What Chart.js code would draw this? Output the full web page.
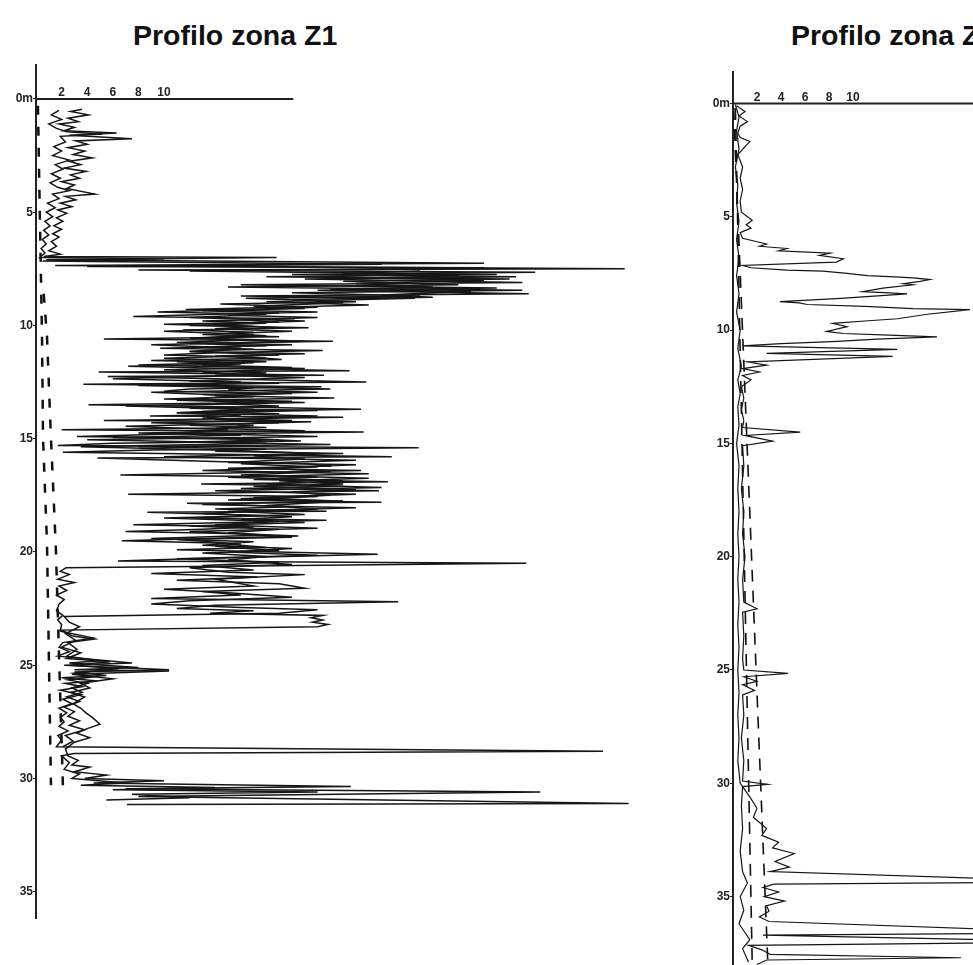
<!DOCTYPE html>
<html>
<head>
<meta charset="utf-8">
<script src="https://cdn.jsdelivr.net/npm/chart.js@4.4.1/dist/chart.umd.min.js"></script>
<style>
  html, body { margin: 0; padding: 0; background: #fff; }
  body { width: 973px; height: 965px; overflow: hidden; position: relative; }
  canvas { position: absolute; top: 0; }
  .title {
    position: absolute; top: 21px; white-space: nowrap;
    font: bold 28.5px "Liberation Sans", Arial, sans-serif; line-height: 1; color: #111;
  }
</style>
</head>
<body>
<div class="title" style="left:133px">Profilo zona Z1</div>
<div class="title" style="left:791px">Profilo zona Z2</div>
<canvas id="z1" width="651" height="965" style="left:0"></canvas>
<canvas id="z2" width="516" height="965" style="left:697px"></canvas>
<script>
// tick labels
const depthTicks = [0, 5, 10, 15, 20, 25, 30, 35];
const valueTicks = [2, 4, 6, 8, 10];

// readings as [value, depth m]
const z1TraceA = [
  [3.6,0.45],[2.7,0.55],[4.1,0.7],[2.5,0.85],[3.3,1.0],[1.8,1.1],[3.0,1.25],[2.2,1.4],[6.3,1.5],[2.6,1.6],
  [7.5,1.76],[3.1,1.85],[4.0,2.0],[2.5,2.15],[3.8,2.3],[2.9,2.45],[4.4,2.6],[2.6,2.75],[3.5,2.9],[2.2,3.05],
  [3.9,3.2],[2.7,3.35],[3.4,3.5],[2.0,3.65],[3.0,3.8],[2.4,3.95],[4.6,4.2],[2.3,4.3],[3.1,4.45],[1.9,4.6],
  [2.8,4.75],[1.7,4.9],[2.4,5.05],[1.6,5.25],[2.1,5.4],[1.4,5.6],[2.0,5.75],[1.3,5.95],[1.8,6.1],[1.2,6.3],
  [1.6,6.5],[1.0,6.7],[1.9,6.85],[0.6,6.95],
  [18.8,7.0],[0.8,7.1],[35,7.25],[1.5,7.35],[46,7.5],[8,7.55],[39,7.65],[20,7.75],[37.5,7.85],[21,7.95],
  [38,8.1],[16,8.2],[36,8.35],[22,8.45],[38.5,8.6],[16,8.7],[29.6,8.8],[18,8.95],[26,9.1],[11.7,9.3],
  [22,9.4],[14,9.5],[7.6,9.6],[20.2,9.7],[13,9.8],[18,9.9],[12,10.0],[21.3,10.1],[11.5,10.2],[17,10.3],
  [13,10.4],[19,10.5],[5.3,10.6],[23.2,10.7],[12,10.8],[18,10.9],[9.7,11.0],[22.4,11.1],[14,11.2],[10,11.3],
  [17,11.4],[19.2,11.5],[11,11.6],[16,11.7],[7.2,11.8],[15,11.9],[24.5,12.0],[4.9,12.05],[22.5,12.2],[5.6,12.25],
  [14,12.35],[25.8,12.5],[3.7,12.6],[22.3,12.7],[12,12.8],[10,12.9],[20,13.0],[14,13.1],[23.3,13.2],[11,13.3],
  [18,13.4],[4.1,13.5],[16,13.6],[25.4,13.7],[13,13.8],[19,13.9],[8.9,14.0],[24,14.05],[5.3,14.2],[21.5,14.25],
  [12,14.4],[18,14.5],[2.0,14.6],[25.6,14.7],[10,14.8],[3.2,14.9],[17,15.0],[20.7,15.1],[6,15.2],[1.7,15.3],
  [29.9,15.4],[9,15.5],[2.1,15.6],[16,15.7],[27.8,15.8],[4.8,15.85],[13.9,16.0],[21,16.1],[23.1,16.2],[15,16.3],
  [25.4,16.4],[6.6,16.6],[22,16.7],[17,16.8],[27.5,16.9],[12.9,17.0],[24,17.1],[16,17.2],[26.8,17.3],[7.2,17.45],
  [22,17.55],[15,17.7],[27,17.8],[11.8,17.85],[20,18.0],[14,18.1],[22.7,18.2],[8.7,18.25],[18,18.4],[12,18.5],
  [22.7,18.6],[7.6,18.8],[17,18.9],[13,19.0],[7.0,19.1],[16,19.2],[20.5,19.3],[6.7,19.5],[14,19.6],[18,19.8],
  [11,19.9],[26.7,20.1],[12,20.3],[6.4,20.4],[38.3,20.5],[2.35,20.7],
  [1.9,20.85],[2.6,21.0],[1.7,21.2],[3.0,21.35],[1.8,21.5],[2.4,21.7],[1.6,21.9],[2.2,22.1],[1.8,22.3],[1.6,22.6],
  [2.1,22.8],[1.7,23.0],[2.0,23.2],[1.9,23.5],[4.5,23.8],[2.1,24.0],[1.8,24.2],[2.6,24.4],[1.7,24.6],[7.5,24.9],
  [2.2,25.0],[10.4,25.2],[3.0,25.3],[5.5,25.45],[2.0,25.55],[4.8,25.7],[2.3,25.8],[3.6,25.95],[1.9,26.1],[3.5,26.3],
  [2.1,26.5],[2.8,26.7],[1.8,26.9],[2.4,27.1],[1.9,27.3],[2.2,27.5],[1.8,27.7],[2.5,27.9],[1.7,28.1],[2.0,28.3],
  [1.6,28.6],[44.3,28.8],[3.0,28.9],[2.0,29.0],[2.6,29.3],[2.2,29.6],[3.4,29.8],[2.8,30.0],[7,30.2],[3.5,30.3],
  [14,30.4],[6,30.5],[22,30.6],[7.5,30.7],[12,30.85],[5.5,30.95]
];

const z1TraceB = [
  [1.8,0.5],[1.2,0.7],[2.0,0.9],[1.0,1.1],[1.6,1.3],[2.4,1.45],[5.2,1.55],[1.9,1.65],[2.3,1.9],[1.4,2.1],
  [2.0,2.3],[1.3,2.5],[2.6,2.7],[1.5,2.9],[2.1,3.1],[1.2,3.3],[1.9,3.5],[1.1,3.7],[1.7,3.9],[2.6,4.05],
  [1.3,4.2],[1.8,4.4],[0.9,4.6],[1.5,4.8],[0.8,5.0],[1.3,5.2],[0.7,5.4],[1.1,5.6],[0.6,5.8],[1.0,6.0],
  [0.5,6.2],[0.8,6.4],[0.4,6.6],[0.7,6.8],[0.3,7.0],[10,7.05],[0.5,7.15],[27,7.3],[4,7.4],[35,7.45],
  [12,7.6],[36,7.75],[18,7.85],[37,7.95],[24,8.05],[33,8.2],[15,8.3],[38,8.45],[20,8.55],[30,8.7],
  [16.4,8.8],[25,8.95],[14.4,9.05],[22,9.2],[9.5,9.4],
  [18,9.5],[12,9.65],[21,9.8],[14,9.95],[19,10.1],[10,10.25],[17,10.4],[13,10.55],[21,10.7],[9,10.85],
  [16,11.0],[12,11.15],[19,11.3],[10,11.45],[18,11.6],[8,11.75],[21,11.9],[13,12.05],[17,12.2],[6,12.35],
  [16,12.5],[11,12.65],[23,12.8],[9,12.95],[16,13.1],[12,13.25],[21,13.4],[7,13.55],[17,13.7],[11,13.85],
  [22,14.0],[14,14.15],[19,14.3],[7,14.45],[15,14.6],[11,14.75],[22,14.9],[4,15.05],[18,15.2],[3.5,15.35],
  [14,15.5],[22,15.65],[10,15.8],[25,15.95],[16,16.1],[22,16.25],[13,16.4],[26,16.55],[15,16.7],[24,16.85],
  [18,17.0],[27,17.15],[14,17.3],[25,17.45],[17,17.6],[23,17.75],[13,17.9],[25,18.05],[15,18.2],[21,18.35],
  [10,18.5],[19,18.65],[14,18.8],[22,18.95],[12,19.1],[18,19.25],[9,19.4],[17,19.55],[13,19.7],[20,19.85],
  [15,20.0],[22,20.15],[11,20.3],[19,20.45],[13,20.6],[17,20.8],[9,20.95],[17.3,21.1],[11,21.25],[19,21.4],
  [21,21.6],[13,21.75],[16,21.9],[9,22.05],[28.3,22.2],[14,22.35],[11,22.5],[17,22.6],[13.6,22.7],[22.4,22.8],
  [21.5,22.9],[22.4,23.0],[21.6,23.1],[22.8,23.2],[22,23.3],[2.0,23.45],
  [2.8,23.7],[4.5,23.85],[2.5,24.0],[3.2,24.3],[2.4,24.6],[5,24.8],[2.6,24.9],[8,25.1],[3,25.2],[10.4,25.25],
  [2.8,25.4],[6,25.6],[3.5,25.8],[4.2,26.0],[2.7,26.2],[3.8,26.4],[2.9,26.7],[3.5,26.9],[3.9,27.1],[4.4,27.3],
  [5.0,27.6],[4.0,27.8],[3.2,28.0],[4.2,28.2],[3.0,28.4],[2.3,28.7],[2.5,29.0],[3.3,29.2],[2.8,29.4],[4.2,29.5],
  [3.0,29.7],[5.5,29.85],[3.8,30.0],[10,30.1],[4.5,30.2],[24.6,30.35],[7,30.45],[39.4,30.6],[8,30.8],[46.3,31.1],
  [7.1,31.15]
];

const z1TraceC = [
  [30,7.6],[24,7.7],[33,7.8],[26,7.9],[35,8.0],[25,8.15],[31,8.3],[23,8.4],[34,8.5],[27,8.65],
  [31,8.75],[20,8.85],[24,9.0],[17,9.15],[21,9.25],[13,9.35],[19,9.45],[15,9.55],[22,9.65],[16,9.75],
  [19,9.85],[10,9.95],[17,10.05],[14,10.15],[20,10.25],[15,10.35],[18,10.45],[12,10.55],[16,10.65],[11,10.75],
  [20,10.85],[13,10.95],[17,11.05],[12,11.15],[21,11.25],[14,11.35],[18,11.45],[9,11.55],[17,11.65],[13,11.75],
  [20,11.85],[10,11.95],[18,12.1],[14,12.2],[21,12.3],[12,12.45],[19,12.55],[8,12.65],[17,12.75],[15,12.85],
  [22,12.95],[13,13.05],[17,13.15],[10,13.25],[20,13.35],[14,13.45],[19,13.55],[12,13.65],[22,13.75],[11,13.85],
  [16,13.95],[13,14.1],[20,14.2],[9,14.3],[17,14.4],[14,14.55],[21,14.65],[8,14.75],[16,14.85],[6,14.95],
  [19,15.05],[12,15.15],[23,15.25],[8,15.35],[18,15.45],[14,15.55],[24,15.65],[17,15.75],[21,15.9],[15,16.05],
  [25,16.15],[18,16.3],[23,16.45],[16,16.6],[26,16.75],[19,16.85],[24,17.0],[17,17.1],[25,17.25],[20,17.35],
  [23,17.5],[16,17.65],[24,17.75],[18,17.95],[22,18.1],[13,18.3],[20,18.45],[16,18.55],[21,18.7],[12,18.85],
  [19,19.0],[15,19.15],[20,19.35],[11,19.45],[16,19.65],[14,19.75],[19,19.95],[13,20.05],[18,20.2],[15,20.35],
  [20,20.55],[12,20.7],[15,20.9],[21,21.0],[14,21.2],[17,21.5],[10,21.65],[15,21.8],[20,22.0],[12,22.15],
  [9,22.3],[16,22.45],[22,22.55],[19,22.7],[2.2,22.85],
  [2.6,23.1],[3.4,23.3],[2.3,23.6],[3.1,23.9],[2.0,24.2],[3.5,24.45],[2.4,24.7],[5.8,24.85],[2.7,25.0],[6.5,25.15],
  [3.0,25.35],[4.6,25.5],[2.5,25.65],[4.0,25.8],[2.8,26.0],[3.6,26.2],[2.4,26.4],[3.4,26.6],[2.2,26.85],[3.0,27.05],
  [2.5,27.25],[3.4,27.45],[2.6,27.65],[3.8,27.85],[2.3,28.1],[2.9,28.35],[2.1,28.6]
];

const z1DashA = [[0.15,0.3],[0.47,10.5],[0.55,15],[0.86,19.6],[1.17,30.3]];
const z1DashB = [[0.6,8.6],[0.86,10.5],[1.17,15],[1.55,19.8],[2.1,30.3]];

const z2TraceA = [
  [0.3,0.1],[1.0,0.35],[0.5,0.55],[1.2,0.8],[0.6,1.0],[0.4,1.3],[0.6,1.5],[1.4,1.68],[0.4,2.25],[0.8,2.8],
  [0.6,3.3],[0.8,3.8],[0.6,4.3],[0.7,4.8],[1.6,5.15],[1.1,5.35],[1.5,5.5],[0.6,5.7],[0.8,5.95],[2.8,6.2],
  [2.2,6.3],[4.5,6.4],[3.8,6.5],[8.1,6.6],[7.2,6.7],[9.2,6.85],[8.6,7.0],[0.8,7.15],[1.5,7.25],[4.5,7.35],
  [7.5,7.4],[9.5,7.5],[11.2,7.6],[13.5,7.65],[15,7.7],[16.4,7.77],[15.6,7.85],[14.2,7.95],[15,8.0],[12.5,8.15],
  [10.8,8.3],[12.6,8.35],[14.5,8.4],[9,8.6],[3.9,8.74],[5.5,8.8],[6.2,8.87],[11,8.95],[15,9.05],[19.75,9.1],
  [16.2,9.3],[13.7,9.5],[11,9.6],[8.3,9.7],[9.5,9.85],[7.8,10.06],[9.2,10.15],[13,10.22],[17,10.3],[12,10.4],
  [8.7,10.5],[4,10.6],[0.8,10.7],[13.7,10.85],[2.8,11.03],[13.3,11.16],[1.2,11.4],[2.8,11.55],[0.8,11.7],[2.2,11.85],
  [0.8,12.0],[1.5,12.2],[0.7,12.5],[0.9,13.0],[0.7,13.5],[0.9,14.0],[0.8,14.3],[5.6,14.5],[1.0,14.65],[3.3,14.9],
  [0.8,15.1],[0.9,16],[0.7,17],[0.9,18],[0.8,19],[1.0,20],[0.8,21],[0.9,22],[2.0,22.3],[0.8,22.45],
  [0.9,23.5],[0.8,24.5],[0.9,25.0],[4.6,25.15],[0.9,25.3],[2.0,25.5],[0.8,25.65],[1.8,25.9],[0.8,26.1],[0.9,27],
  [0.7,28],[0.9,29],[0.8,29.9],[2.9,30.05],[0.8,30.15],[0.7,31],[0.8,32],[0.6,33],[0.8,33.9],[1.2,34.4],
  [0.6,35],[0.9,35.6],[0.5,36.2],[1.4,36.9],[0.8,37.3],[1.3,37.9]
];

const z2TraceB = [
  [0.2,0.05],[0.5,0.6],[0.3,1.2],[0.5,2],[0.2,2.8],[0.4,3.6],[0.3,4.4],[0.5,5.2],[0.3,6],[0.5,6.8],
  [0.3,7.6],[0.5,8.4],[0.3,9.2],[0.6,10],[0.4,10.8],[0.7,11.6],[0.4,12.2],[0.6,12.8],[0.4,13.4],[0.5,14.2],
  [0.3,15],[0.5,16],[0.4,17],[0.5,18],[0.4,19],[0.5,20],[0.4,21],[0.5,22],[0.4,23],[0.5,24],
  [0.4,25],[0.5,26],[0.4,27],[0.5,28],[0.4,29],[0.6,30],[1.4,30.6],[2.0,31.1],[1.7,31.5],[2.8,32.0],
  [2.4,32.3],[3.8,32.6],[3.3,32.85],[5.1,33.1],[3.5,33.45],[4.7,33.7],[3.1,33.9],[30,34.35],[3.4,34.45],[2.5,34.6],
  [3.8,34.8],[2.6,35.0],[4.3,35.2],[2.8,35.4],[3.0,35.65],[2.2,35.9],[3.0,36.1],[30,36.6],[2.5,36.7],[30,37.0],
  [1.3,37.15],[2.4,37.35],[3.1,37.55],[19,37.7],[2.8,37.8],[2.0,38.0]
];

const z2DashA = [[0.05,0.2],[2.9,37.9]];
const z2DashB = [[0.2,0.2],[1.6,37.9]];

const toXY = arr => arr.map(p => ({ x: p[0], y: p[1] }));
const tickFont = { family: '"Liberation Sans", Arial, sans-serif', size: 12, weight: 'bold' };

// top axis line drawn only along the readable part of the value scale
const zeroAxisPlugin = {
  id: 'zeroAxis',
  afterDatasetsDraw(chart, args, opts) {
    const { ctx, scales: { x, y } } = chart;
    const py = y.getPixelForValue(0);
    ctx.save();
    ctx.strokeStyle = '#222';
    ctx.lineWidth = 2;
    ctx.beginPath();
    ctx.moveTo(x.getPixelForValue(0), py);
    ctx.lineTo(x.getPixelForValue(opts.end), py);
    ctx.stroke();
    ctx.restore();
  }
};

function traceSet(data, width) {
  return { data: toXY(data), showLine: true, borderColor: '#161616', borderWidth: width,
           pointRadius: 0, fill: false, tension: 0 };
}
function dashSet(data, width, dash) {
  return { data: toXY(data), showLine: true, borderColor: '#111', borderWidth: width,
           borderDash: dash, pointRadius: 0, fill: false };
}

function makeProfile(id, cfg) {
  return new Chart(document.getElementById(id), {
    type: 'scatter',
    data: { datasets: cfg.datasets },
    plugins: [zeroAxisPlugin],
    options: {
      responsive: false,
      animation: false,
      layout: { padding: cfg.padding },
      plugins: {
        legend: { display: false },
        tooltip: { enabled: false },
        zeroAxis: { end: cfg.axisEnd }
      },
      scales: {
        x: {
          type: 'linear', min: 0, max: cfg.xMax,
          position: { y: 0 },
          grid: { display: false },
          border: { display: false },
          afterBuildTicks: s => { s.ticks = valueTicks.map(v => ({ value: v })); },
          ticks: { padding: -21, color: '#222', font: tickFont }
        },
        y: {
          type: 'linear', reverse: true, min: cfg.yMin, max: cfg.yMax,
          afterFit: s => { s.width = 36; s.paddingTop = 0; s.paddingBottom = 0; },
          afterBuildTicks: s => { s.ticks = depthTicks.map(v => ({ value: v })); },
          grid: { display: true, drawOnChartArea: false, tickLength: 3, color: '#222' },
          border: { display: true, color: '#222', width: 2 },
          ticks: { padding: 0, color: '#222', font: tickFont,
                   callback: v => (v === 0 ? '0m' : v) }
        }
      }
    }
  });
}

makeProfile('z1', {
  xMax: 48.05, yMin: -1.5, yMax: 36.16, axisEnd: 20.1,
  padding: { top: 65, bottom: 47, left: 0, right: 0 },
  datasets: [traceSet(z1TraceA, 1.5), traceSet(z1TraceB, 1.5), traceSet(z1TraceC, 1.5),
             dashSet(z1DashA, 2.5, [9, 12]), dashSet(z1DashB, 2.5, [9, 12])]
});

makeProfile('z2', {
  xMax: 40, yMin: -1.39, yMax: 38.02, axisEnd: 40,
  padding: { top: 72, bottom: 0, left: 0, right: 0 },
  datasets: [traceSet(z2TraceA, 1.2), traceSet(z2TraceB, 1.2),
             dashSet(z2DashA, 1.6, [12, 9]), dashSet(z2DashB, 1.6, [12, 9])]
});
</script>
</body>
</html>
